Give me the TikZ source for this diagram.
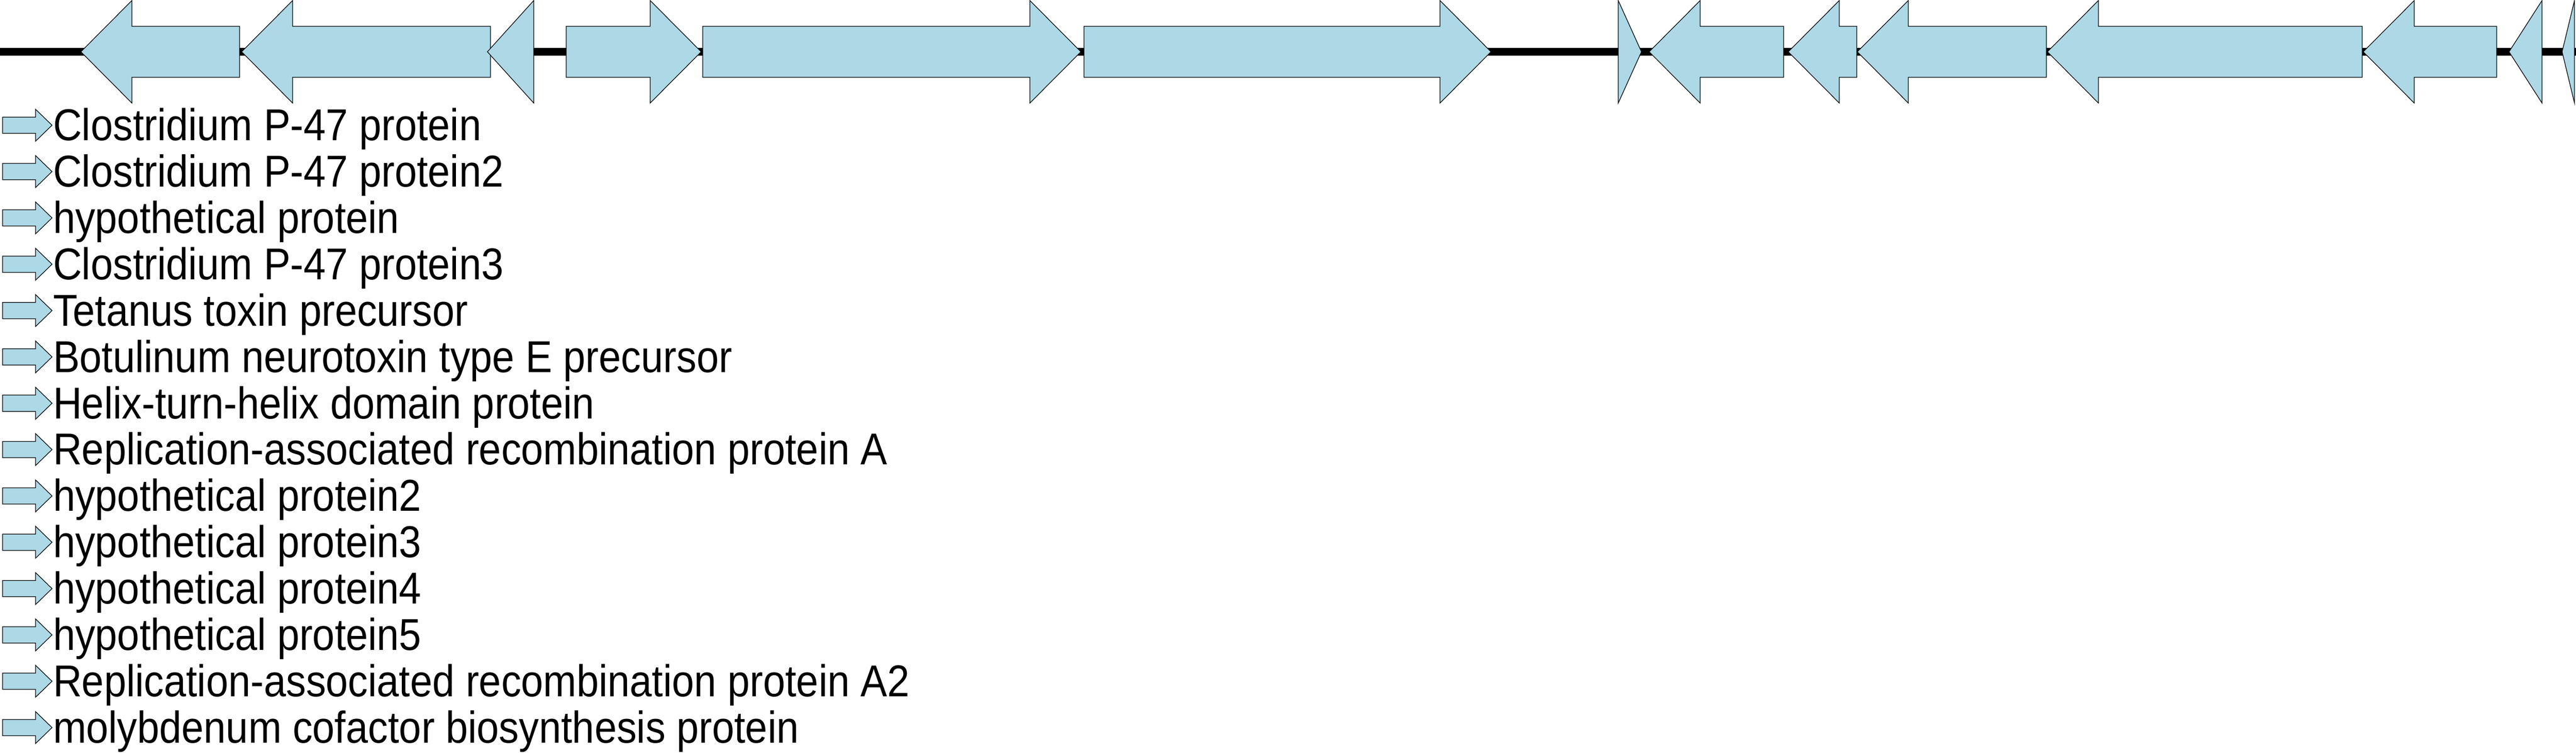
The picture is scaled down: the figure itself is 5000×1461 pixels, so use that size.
\documentclass[tikz,border=0pt]{standalone}
\usepackage{fontspec}
\setmainfont{Liberation Sans}
\definecolor{genefill}{RGB}{173,216,230}
\tikzset{
  gene/.style={fill=genefill, draw=black, line width=0.25pt, line join=miter},
  backbone/.style={draw=black, line width=3pt},
  legtext/.style={anchor=base west, inner sep=0pt, font=\fontsize{17.32pt}{17.32pt}\selectfont},
}
% left-pointing gene: tip x, right end x
\newcommand\mygeneL[2]{%
  \pgfmathsetmacro\gb{min(#1+99,#2)}%
  \path[gene] (#1,100.5) -- (\gb,1) -- (\gb,51) -- (#2,51) -- (#2,150) -- (\gb,150) -- (\gb,200) -- cycle;}
% right-pointing gene: left end x, tip x
\newcommand\mygeneR[2]{%
  \pgfmathsetmacro\gb{max(#2-99,#1)}%
  \path[gene] (#2,100.5) -- (\gb,1) -- (\gb,51) -- (#1,51) -- (#1,150) -- (\gb,150) -- (\gb,200) -- cycle;}
% legend icon centred at y
\newcommand\mylegicon[1]{%
  \path[gene] (5,#1-15.8) -- (69,#1-15.8) -- (69,#1-31) -- (101,#1) -- (69,#1+31) -- (69,#1+15.8) -- (5,#1+15.8) -- cycle;}
\begin{document}
\begin{tikzpicture}[x=0.2pt,y=-0.2pt]
\useasboundingbox (0,0) rectangle (5000,1461);
\coordinate (bbL) at (0,100.5);
\coordinate (bbR) at (5000,100.5);
\draw[backbone] (bbL) -- (bbR);
\mygeneL{157}{465}
\mygeneL{469}{952}
\mygeneL{946}{1036}
\mygeneR{1099}{1361}
\mygeneR{1364}{2098}
\mygeneR{2104}{2894}
\mygeneR{3141}{3186}
\mygeneL{3201}{3462}
\mygeneL{3471}{3604}
\mygeneL{3605}{3972}
\mygeneL{3974}{4585}
\mygeneL{4587}{4846}
\mygeneL{4870}{4934}
\mygeneL{4973}{4997}
\foreach \t [count=\i] in {Clostridium P-47 protein,Clostridium P-47 protein2,hypothetical protein,Clostridium P-47 protein3,Tetanus toxin precursor,Botulinum neurotoxin type E precursor,Helix-turn-helix domain protein,Replication-associated recombination protein A,hypothetical protein2,hypothetical protein3,hypothetical protein4,hypothetical protein5,Replication-associated recombination protein A2,molybdenum cofactor biosynthesis protein}{
  \pgfmathsetmacro\yb{272.7+(\i-1)*89.9}
  \pgfmathsetmacro\yc{\yb-29.7}
  \mylegicon{\yc}
  \node[legtext] (leg\i) at (102,\yb) {\scalebox{0.895}[1]{\t}};
}
\end{tikzpicture}
\end{document}
